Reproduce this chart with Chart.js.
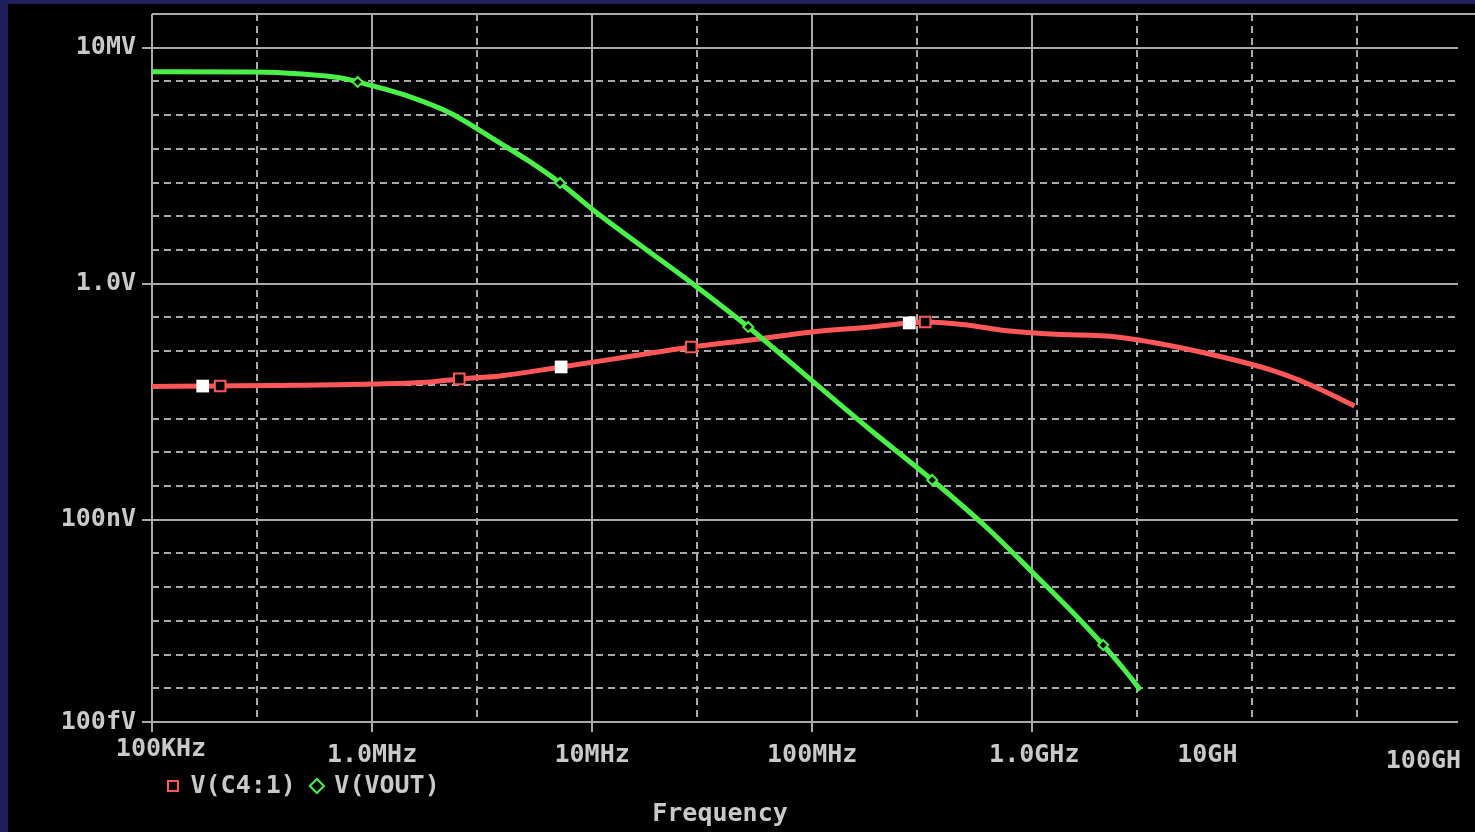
<!DOCTYPE html>
<html>
<head>
<meta charset="utf-8">
<title>V(C4:1) / V(VOUT) vs Frequency</title>
<script src="https://cdn.jsdelivr.net/npm/chart.js@4.4.1/dist/chart.umd.min.js"></script>
<style>
  html, body { margin: 0; padding: 0; background: #201f5e; overflow: hidden; }
  #plot { position: absolute; left: 8px; top: 4px; width: 1467px; height: 828px; background: #000; }
</style>
</head>
<body>
<div id="plot"><canvas id="chart" width="1467" height="828"></canvas></div>
<script>
// V(C4:1) trace, frequency in Hz, value in V
var vc4Freq  = [1e5, 2.04e5, 3.82e5, 1e6, 1.84e6, 2.49e6, 3.82e6, 7.23e6, 1.34e7, 2.82e7, 5.23e7, 1e8,
                1.84e8, 2.76e8, 3.26e8, 5.07e8, 7.16e8, 1.21e9, 2.43e9, 3.44e9, 5.8e9, 1.21e10, 1.84e10, 2.91e10];
var vc4Volts = [8.97e-4, 9.27e-4, 9.6e-4, 1.06e-3, 1.22e-3, 1.5e-3, 1.84e-3, 3.4e-3, 6.28e-3, 0.0133, 0.0215, 0.0371,
                0.0522, 0.0686, 0.0735, 0.0598, 0.0426, 0.0324, 0.0264, 0.0187, 9.46e-3, 2.77e-3, 9.93e-4, 2.37e-4];
var vc4Marked = [1, 5, 9, 14];

// V(VOUT) trace
var voutFreq  = [1e5, 2.94e5, 4.81e5, 6.11e5, 7.62e5, 8.6e5, 1.09e6, 1.49e6, 2.26e6, 3.8e6, 5.23e6,
                 7.15e6, 1.01e7, 1.65e7, 2.87e7, 5.12e7, 1e8, 1.84e8, 3.51e8, 6.24e8, 1.01e9, 1.49e9,
                 2.1e9, 2.65e9, 3.1e9];
var voutVolts = [1.95e6, 1.91e6, 1.67e6, 1.46e6, 1.19e6, 9.67e5, 6.43e5, 3.47e5, 1.16e5, 1.5e4, 4.09e3,
                 975, 154, 14.1, 0.984, 0.0522, 1.31e-3, 4.59e-5, 1.51e-6, 5.69e-8, 2.63e-9, 2.1e-10,
                 1.92e-11, 3.26e-12, 8.9e-13];
var voutMarked = [5, 11, 15, 18, 22];

// cursor marks on V(C4:1)
var cursorFreq  = [1.7e5, 7.23e6, 2.76e8];
var cursorVolts = [9.2e-4, 3.4e-3, 0.0686];

var xTickValues = [1e5, 1e6, 1e7, 1e8, 1e9, 1e10, 1e11];
var xTickLabels = ['100KHz', '1.0MHz', '10MHz', '100MHz', '1.0GHz', '10GH', '100GH'];
var xSolidGrid  = [1e6, 1e7, 1e8, 1e9];
var xDashGrid   = [3e5, 3e6, 3e7, 3e8, 3e9, 1e10, 3e10];
var yTickValues = [1e7, 1, 1e-7, 1e-13];
var yTickLabels = ['10MV', '1.0V', '100nV', '100fV'];

var RED = '#ff5757', GREEN = '#48f048', GRID = '#a9a9a9', TEXT = '#c9c9c9';
var FONT = { family: '"DejaVu Sans Mono", "Liberation Mono", monospace', size: 25, weight: 'bold' };

function pts(xs, ys) {
  return xs.map(function(x, i) { return { x: x, y: ys[i] }; });
}

// label nudges, the plot program puts the last two labels off their ticks
var xLabelDx = [9, 0, 0, 0, 2, -45, -49];
var xLabelDy = [27, 33, 33, 33, 33, 33, 39];

var probeGrid = {
  id: 'probeGrid',
  beforeDatasetsDraw: function(chart) {
    var ctx = chart.ctx, a = chart.chartArea, sx = chart.scales.x, sy = chart.scales.y;
    function seg(x1, y1, x2, y2) { ctx.beginPath(); ctx.moveTo(x1, y1); ctx.lineTo(x2, y2); ctx.stroke(); }
    ctx.save();
    ctx.strokeStyle = GRID;
    ctx.lineWidth = 2;

    ctx.setLineDash([7, 5]);
    xDashGrid.forEach(function(v) {
      var px = Math.round(sx.getPixelForValue(v));
      seg(px, a.top, px, a.bottom);
    });
    for (var d = -12; d <= 7; d++) {
      var v = Math.pow(10, d);
      if (yTickValues.indexOf(v) >= 0) continue;
      var py = Math.round(sy.getPixelForValue(v));
      seg(a.left, py, a.right, py);
    }

    ctx.setLineDash([]);
    xSolidGrid.forEach(function(v) {
      var px = Math.round(sx.getPixelForValue(v));
      seg(px, a.top, px, a.bottom + 10);
    });
    yTickValues.forEach(function(v) {
      var py = Math.round(sy.getPixelForValue(v));
      seg(a.left - 10, py, a.right, py);
    });
    // frame: top runs to the window edge, left axis, x tick at origin
    seg(a.left, a.top, chart.width, a.top);
    seg(a.left, a.top, a.left, a.bottom + 10);
    ctx.restore();
  },
  afterDraw: function(chart) {
    var ctx = chart.ctx, a = chart.chartArea, sx = chart.scales.x;
    ctx.save();
    ctx.fillStyle = TEXT;
    ctx.font = 'bold 25px "DejaVu Sans Mono", "Liberation Mono", monospace';
    ctx.textAlign = 'center';
    ctx.textBaseline = 'middle';
    xTickValues.forEach(function(v, i) {
      ctx.fillText(xTickLabels[i], sx.getPixelForValue(v) + xLabelDx[i], a.bottom + xLabelDy[i]);
    });
    ctx.fillText('Frequency', 712, 810);
    ctx.restore();
  }
};

new Chart(document.getElementById('chart'), {
  type: 'line',
  data: {
    datasets: [
      {
        label: 'V(C4:1)',
        data: pts(vc4Freq, vc4Volts),
        borderColor: RED,
        backgroundColor: '#000',
        borderWidth: 5,
        cubicInterpolationMode: 'monotone',
        pointStyle: 'rect',
        pointRadius: function(c) { return vc4Marked.indexOf(c.dataIndex) >= 0 ? 7.5 : 0; },
        pointBorderWidth: 2,
        pointBorderColor: RED,
        pointBackgroundColor: '#000',
        order: 2
      },
      {
        label: 'V(VOUT)',
        data: pts(voutFreq, voutVolts),
        borderColor: GREEN,
        backgroundColor: '#000',
        borderWidth: 5,
        cubicInterpolationMode: 'monotone',
        pointStyle: 'rectRot',
        pointRadius: function(c) { return voutMarked.indexOf(c.dataIndex) >= 0 ? 5 : 0; },
        pointBorderWidth: 2,
        pointBorderColor: GREEN,
        pointBackgroundColor: '#000',
        order: 1
      },
      {
        label: 'cursor',
        data: pts(cursorFreq, cursorVolts),
        showLine: false,
        pointStyle: 'rect',
        pointRadius: 9,
        pointBorderWidth: 0,
        pointBackgroundColor: '#ffffff',
        order: 0
      }
    ]
  },
  options: {
    responsive: false,
    devicePixelRatio: 1,
    animation: false,
    events: [],
    layout: { padding: { top: 10, right: 17, bottom: 23.5, left: 0 } },
    scales: {
      x: {
        type: 'logarithmic',
        min: 1e5,
        max: 8.6e10,
        grid: { display: false },
        border: { display: false },
        ticks: { display: false },
        afterFit: function(s) { s.height = 35.5; s.paddingLeft = 0; s.paddingRight = 0; }
      },
      y: {
        type: 'logarithmic',
        min: 1e-13,
        max: 1e8,
        grid: { display: false },
        border: { display: false },
        afterBuildTicks: function(s) {
          s.ticks = yTickValues.map(function(v) { return { value: v }; });
        },
        ticks: {
          autoSkip: false,
          color: TEXT,
          font: FONT,
          padding: 8,
          callback: function(v, i) { return yTickLabels[i]; }
        },
        afterFit: function(s) { s.width = 144; s.paddingTop = 0; s.paddingBottom = 0; }
      }
    },
    plugins: {
      tooltip: { enabled: false },
      legend: {
        position: 'bottom',
        align: 'start',
        fullSize: false,
        labels: {
          usePointStyle: true,
          boxWidth: 10,
          boxHeight: 10,
          padding: 16,
          color: TEXT,
          font: FONT,
          filter: function(item) { return item.datasetIndex < 2; },
          sort: function(a, b) { return a.datasetIndex - b.datasetIndex; },
          generateLabels: function(chart) {
            return Chart.defaults.plugins.legend.labels.generateLabels(chart).map(function(it) {
              it.lineWidth = 2;
              it.fillStyle = '#000';
              return it;
            });
          }
        }
      }
    }
  },
  plugins: [probeGrid]
});
</script>
</body>
</html>
